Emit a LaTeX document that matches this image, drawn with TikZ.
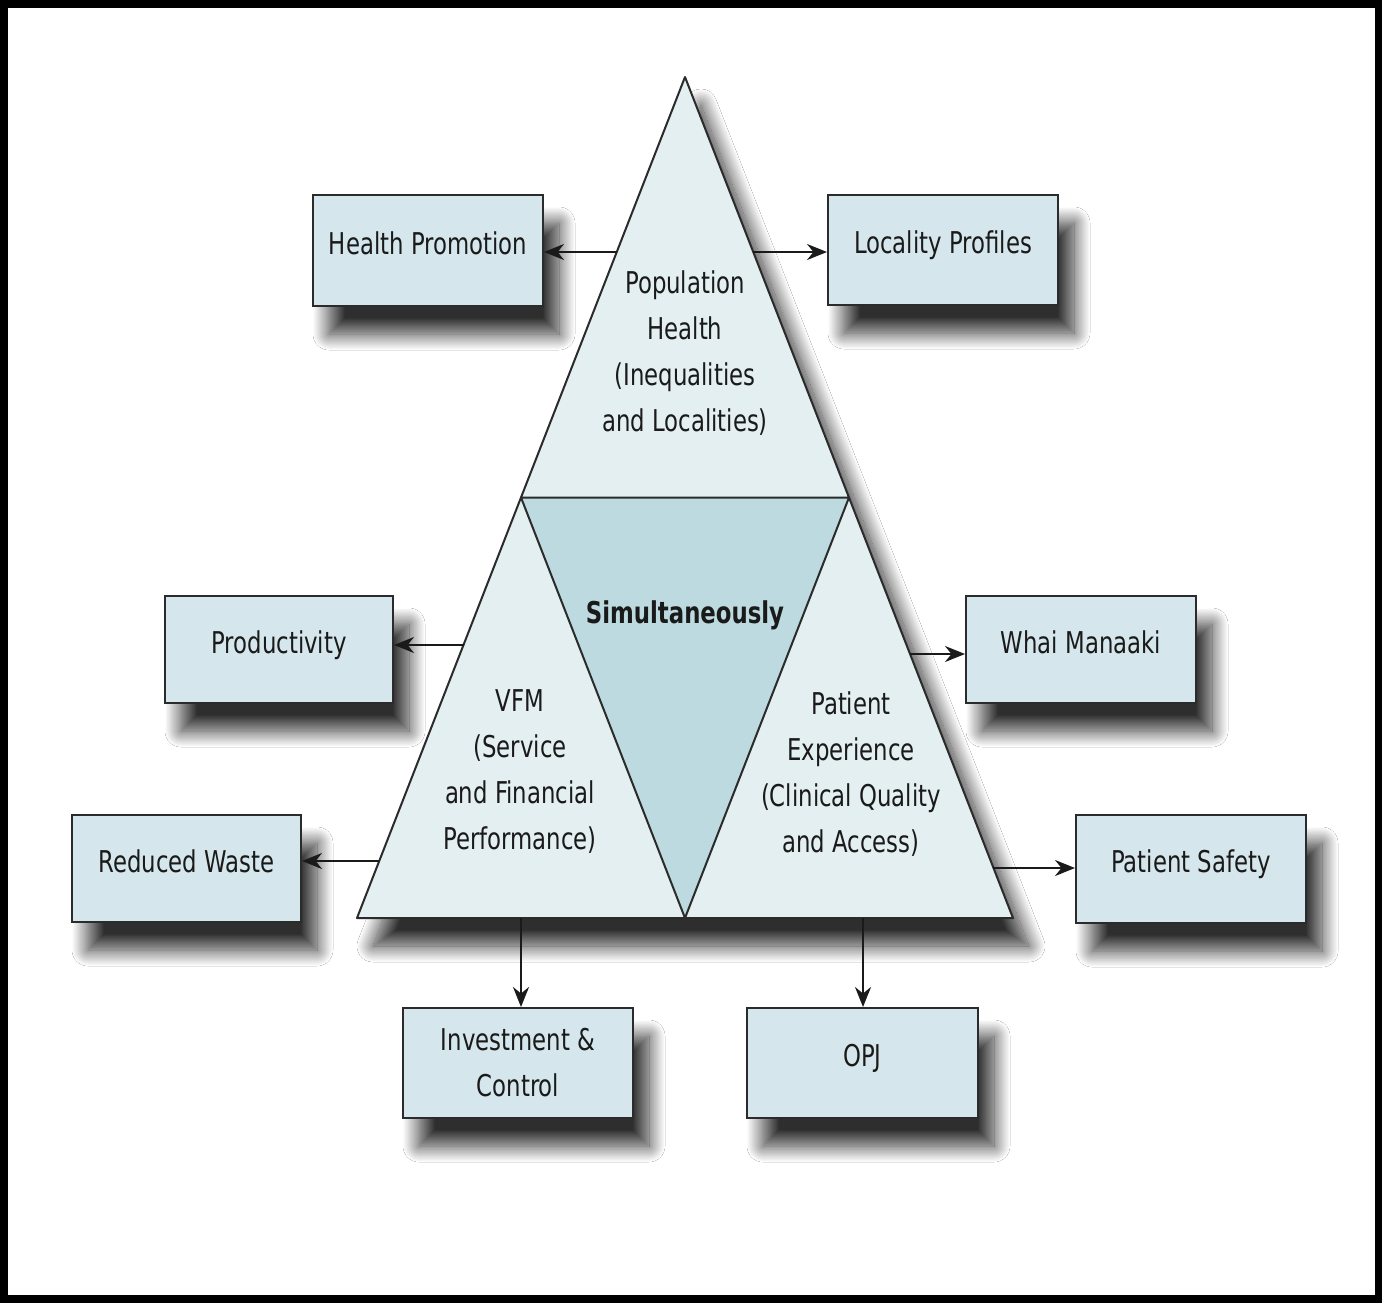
\documentclass[tikz,border=0pt]{standalone}
\usepackage{fontspec}
\setmainfont{DejaVu Sans}[FakeStretch=0.76]
\usetikzlibrary{arrows.meta,shadows.blur,calc}
\definecolor{boxfill}{HTML}{D5E7EC}
\definecolor{trifill}{HTML}{E4EFF1}
\definecolor{midfill}{HTML}{BCDADF}
\definecolor{edge}{HTML}{2B2B2B}
\definecolor{ink}{HTML}{1A1A1A}
\begin{document}
\begin{tikzpicture}[x=1pt,y=-1pt,
  lbl/.style={font=\fontsize{30}{46}\selectfont, text=ink, align=center, inner sep=0pt},
  dropshadow/.style={blur shadow={shadow xshift=16pt, shadow yshift=-28pt,
      shadow blur radius=16pt, shadow opacity=82, shadow blur steps=30}},
  itembox/.style={lbl, draw=edge, line width=2pt, fill=boxfill, dropshadow},
  oneline/.style={text height=22pt, text depth=15pt},
  arr/.style={-{Stealth[length=20pt,width=16pt]}, line width=2.4pt, draw=ink},
  triline/.style={draw=edge, line width=2pt, line join=round}]

% page and frame
\useasboundingbox (0,0) rectangle (1382,1302);
\fill[white] (0,0) rectangle (1382,1302);
\draw[line width=8pt, black] (4,4) rectangle (1378.5,1298.5);

% triangle corners and edge midpoints
\coordinate (A) at (685,77);
\coordinate (B) at (357,918);
\coordinate (C) at (1013,918);
\coordinate (Mab) at (521,497.5);
\coordinate (Mac) at (849,497.5);
\coordinate (Mbc) at (685,918);

% triangle with its shadow
\path[fill=trifill, dropshadow] (A) -- (B) -- (C) -- cycle;
\fill[midfill] (Mab) -- (Mac) -- (Mbc) -- cycle;
\draw[triline] (A) -- (B) -- (C) -- cycle (Mab) -- (Mac) -- (Mbc) -- cycle;

% triangle labels
\node[lbl] (pop) at (685,353) {Population\\Health\\(Inequalities\\and Localities)};
\node[lbl] (vfm) at (520,772) {VFM\\(Service\\and Financial\\Performance)};
\node[lbl] (pat) at (851,774) {Patient\\Experience\\(Clinical Quality\\and Access)};
\node[lbl, font=\fontsize{30}{46}\selectfont\bfseries] (sim) at (685,615) {Simultaneously};

% outcome boxes
\node[itembox, oneline, minimum width=230pt, minimum height=111pt] (hp) at (428,250.5) {Health Promotion};
\node[itembox, oneline, minimum width=230pt, minimum height=110pt] (lp) at (943,250) {Locality Profiles};
\node[itembox, oneline, minimum width=228pt, minimum height=107pt] (prod) at (279,649.5) {Productivity};
\node[itembox, oneline, minimum width=230pt, minimum height=107pt] (whai) at (1081,649.5) {Whai Manaaki};
\node[itembox, oneline, minimum width=229pt, minimum height=107pt] (rw) at (186.5,868.5) {Reduced Waste};
\node[itembox, oneline, minimum width=230pt, minimum height=108pt] (ps) at (1191,869) {Patient Safety};
\node[itembox, minimum width=230pt, minimum height=110pt] (ic) at (518,1063) {Investment \&\\Control};
\node[itembox, oneline, minimum width=231pt, minimum height=110pt] (opj) at (862.5,1063) {OPJ};

% arrow starts on the triangle edges
\coordinate (sHP) at (617,252);
\coordinate (sLP) at (753,252);
\coordinate (sPR) at (464,645);
\coordinate (sWM) at (910,654);
\coordinate (sRW) at (379,861);
\coordinate (sPS) at (993,868);
\coordinate (sIC) at (521,918);
\coordinate (sOP) at (863,918);

\draw[arr] (sHP) -- (sHP -| hp.east);
\draw[arr] (sLP) -- (sLP -| lp.west);
\draw[arr] (sPR) -- (sPR -| prod.east);
\draw[arr] (sWM) -- (sWM -| whai.west);
\draw[arr] (sRW) -- (sRW -| rw.east);
\draw[arr] (sPS) -- (sPS -| ps.west);
\draw[arr] (sIC) -- (sIC |- ic.north);
\draw[arr] (sOP) -- (sOP |- opj.north);
\end{tikzpicture}
\end{document}
